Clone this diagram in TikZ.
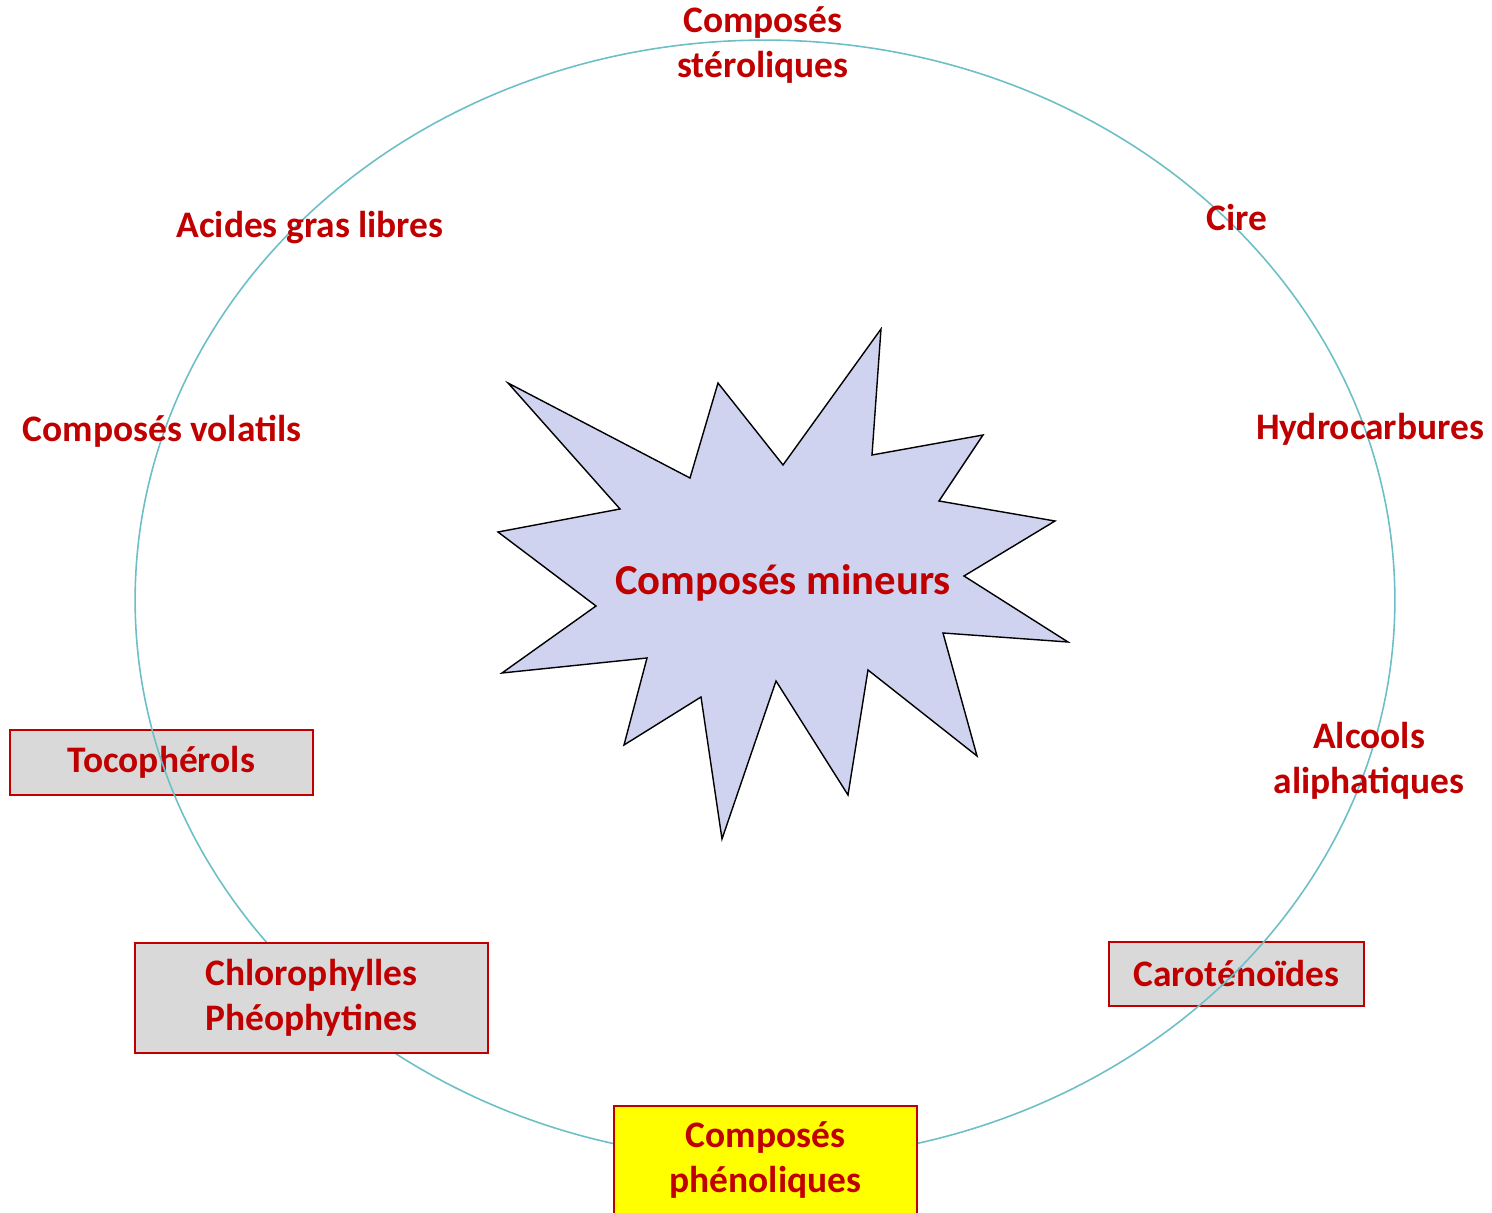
\documentclass[tikz,border=0pt]{standalone}
\usepackage{fontspec}
\setmainfont{Carlito}
\usetikzlibrary{positioning}
\definecolor{txtred}{HTML}{C00000}
\definecolor{ringcol}{HTML}{6CBFC6}
\definecolor{boxgray}{HTML}{D9D9D9}
\definecolor{boxyellow}{HTML}{FFFF00}
\definecolor{starfill}{HTML}{D0D3EF}
\tikzset{
    comptxt/.style={text=txtred, align=center, inner sep=0pt,
        font=\fontsize{21.3}{25.6}\selectfont\bfseries},
    compbox/.style={comptxt, draw=txtred, line width=1.1pt, fill=boxgray},
    ring/.style={draw=ringcol, line width=0.9pt},
}

\begin{document}
\begin{tikzpicture}[x=0.02cm, y=-0.02cm]
                    \useasboundingbox (0,0) rectangle (1492,1213);
                    % Boxes under the ring
                    \node[compbox, minimum width=6.06cm, minimum height=1.3cm] (toco) at (161.5,762.5) {Tocophérols};
                    \node[compbox, minimum width=5.1cm, minimum height=1.28cm] (carot) at (1236.5,974) {Caroténoïdes};
                    % Ring
                    \draw[ring] (765,600) ellipse [x radius=12.6cm, y radius=11.2cm];
                    % Boxes over the ring
                    \node[compbox, minimum width=7.06cm, minimum height=2.2cm] (chloro) at (311.5,998) {Chlorophylles\\Phéophytines};
                    \node[compbox, fill=boxyellow, minimum width=6.06cm, minimum height=2.18cm] (pheno) at (765.5,1160.5) {Composés\\phénoliques};
                    % Labels
                    \node[comptxt] (sterol) at (763,45) {Composés\\stéroliques};
                    \node[comptxt] (acides) at (310,228) {Acides gras libres};
                    \node[comptxt] (cire) at (1237,218) {Cire};
                    \node[comptxt] (volat) at (162,431) {Composés volatils};
                    \node[comptxt] (hydro) at (1370,429) {Hydrocarbures};
                    \node[comptxt] (alcool) at (1369,761) {Alcools\\aliphatiques};
                    % Star
                    \draw[fill=starfill, line width=0.8pt, line join=miter]
                        (508,383) -- (690,478) -- (718,383) -- (783,465) -- (881,329) -- (872,455)
                        -- (983,435) -- (939,501) -- (1055,521) -- (964,576) -- (1068,642) -- (943,633)
                        -- (977,756) -- (868,670) -- (848,795) -- (776,681) -- (722,839) -- (701,697)
                        -- (624,745) -- (647,658) -- (502,673) -- (596,606) -- (498,532) -- (620,509) -- cycle;
                    \node[comptxt, font=\fontsize{24.3}{29}\selectfont\bfseries] (mineurs) at (783,583) {Composés mineurs};
                \end{tikzpicture}
\end{document}
